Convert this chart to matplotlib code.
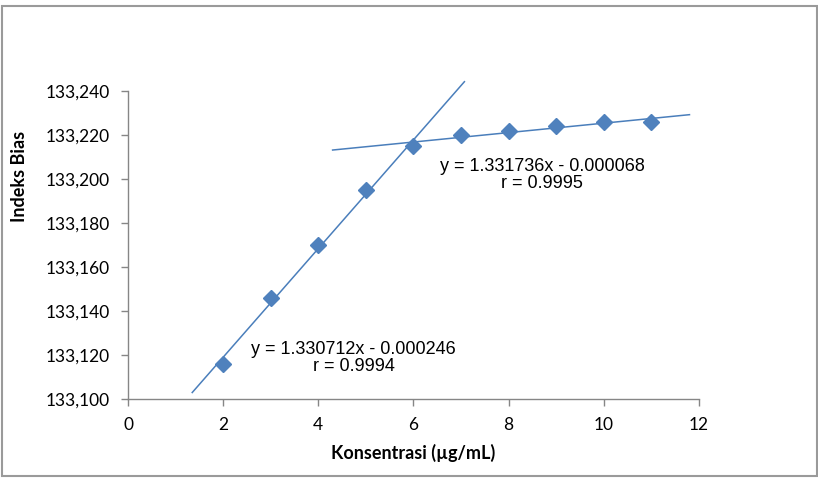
import matplotlib
matplotlib.use("Agg")
import matplotlib.pyplot as plt
from matplotlib.patches import Rectangle
from matplotlib.ticker import FuncFormatter
import numpy as np

# Data
konsentrasi = [2, 3, 4, 5, 6, 7, 8, 9, 10, 11]
indeks_bias = [133116, 133146, 133170, 133195, 133215, 133220, 133222, 133224, 133226, 133226]
x_ticks = [0, 2, 4, 6, 8, 10, 12]
y_ticks = [133100, 133120, 133140, 133160, 133180, 133200, 133220, 133240]
eq1 = "y = 1.330712x - 0.000246\nr = 0.9994"
eq2 = "y = 1.331736x - 0.000068\nr = 0.9995"

fig = plt.figure(figsize=(8.18, 4.84), dpi=100)
fig.patches.append(Rectangle((2/818, 8/484), 815/818, 470/484, transform=fig.transFigure,
                             fill=False, edgecolor='#9a9a9a', linewidth=1.5))
ax = fig.add_axes([128/818, 1-399/484, 571/818, 308/484])

blue = '#4F81BD'
line_c = '#4A7EBB'
x = np.array(konsentrasi, dtype=float)
y = np.array(indeks_bias, dtype=float)

# trendline 1 (first five points)
p1 = np.polyfit(x[:5], y[:5], 1)
xx1 = np.array([1.35, 7.07])
ax.plot(xx1, np.polyval(p1, xx1), color=line_c, lw=1.1, zorder=2, clip_on=False)
# trendline 2 (last six points)
p2 = np.polyfit(x[4:], y[4:], 1)
xx2 = np.array([4.3, 11.8])
ax.plot(xx2, np.polyval(p2, xx2), color=line_c, lw=1.1, zorder=2, clip_on=False)

ax.plot(x, y, linestyle='none', marker='D', markersize=8, color=blue, zorder=3)

ax.set_xlim(0, 12)
ax.set_ylim(133100, 133240)
ax.set_xticks(x_ticks)
ax.set_yticks(y_ticks)
ax.yaxis.set_major_formatter(FuncFormatter(lambda v, p: f"{v:,.0f}"))

for s in ['top', 'right']:
    ax.spines[s].set_visible(False)
for s in ['left', 'bottom']:
    ax.spines[s].set_color('#868686')
    ax.spines[s].set_linewidth(1.0)
ax.tick_params(axis='both', direction='out', length=5, color='#868686', width=1.0,
               labelsize=12.5, labelcolor='black')
ax.tick_params(axis='x', pad=8)
ax.tick_params(axis='y', pad=8)
for lab in ax.get_xticklabels() + ax.get_yticklabels():
    lab.set_family('Lato')

ax.set_xlabel('Konsentrasi (µg/mL)', family='Lato', fontweight='bold', fontsize=13, labelpad=8)
fig.text(20/818, 1-176/484, 'Indeks Bias', family='Lato', fontweight='bold', fontsize=13,
         rotation=90, ha='center', va='center')

ax.text(4.74, 133118.5, eq1, ha='center', va='center', family='Liberation Sans',
        fontsize=13, linespacing=1.0)
ax.text(8.7, 133202, eq2, ha='center', va='center', family='Liberation Sans',
        fontsize=13, linespacing=1.0)

fig.savefig('out.png', dpi=100)
